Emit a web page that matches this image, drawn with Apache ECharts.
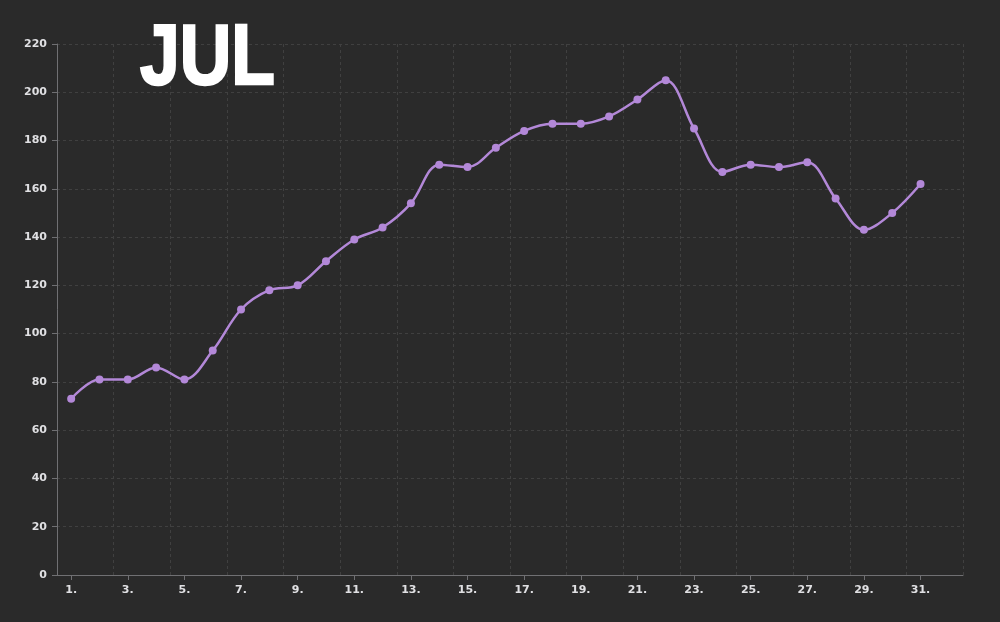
<!DOCTYPE html>
<html>
<head>
<meta charset="utf-8">
<script src="https://cdn.jsdelivr.net/npm/echarts@6/dist/echarts.min.js"></script>
<style>
html,body{margin:0;padding:0;background:#2a2a2a;}
#c{width:1000px;height:622px;}
</style>
</head>
<body>
<div id="c"></div>
<script>
const titleText = 'JUL';
const days = ['1','2','3','4','5','6','7','8','9','10','11','12','13','14','15','16','17','18','19','20','21','22','23','24','25','26','27','28','29','30','31','32'];
const values = [73,81,81,86,81,93,110,118,120,130,139,144,154,170,169,177,184,187,187,190,197,205,185,167,170,169,171,156,143,150,162];
const yTicks = {min:0, max:220, interval:20};

const chart = echarts.init(document.getElementById('c'), null, {renderer:'canvas'});
chart.setOption({
  backgroundColor:'#2a2a2a',
  animation:false,
  graphic:[{
    type:'text', left:139, top:16, z:100,
    scaleX:0.83, originX:0, originY:0,
    style:{text:titleText, fill:'#ffffff', stroke:'#ffffff', lineWidth:2.5,
      font:'bold 86px "Liberation Sans", Arial, sans-serif',
      shadowColor:'rgba(0,0,0,0.9)', shadowBlur:14, shadowOffsetX:3, shadowOffsetY:5}
  }],
  grid:{left:57, right:37, top:44, bottom:47, containLabel:false},
  xAxis:{
    type:'category', data:days, boundaryGap:true,
    axisLine:{lineStyle:{color:'#707073', width:1}},
    axisTick:{show:true, alignWithLabel:true, interval:1, length:5, lineStyle:{color:'#707073'}},
    axisLabel:{interval:1, color:'#e0e0e3', fontFamily:'DejaVu Sans', fontSize:11, fontWeight:'bold', margin:10,
      formatter:v=>v+'.'},
    splitLine:{show:true, interval:1, lineStyle:{color:'#404040', type:[3,3], width:1}}
  },
  yAxis:{
    type:'value', min:yTicks.min, max:yTicks.max, interval:yTicks.interval,
    axisLine:{show:true, lineStyle:{color:'#707073', width:1}},
    axisTick:{show:true, length:5, lineStyle:{color:'#707073'}},
    axisLabel:{color:'#e0e0e3', fontFamily:'DejaVu Sans', fontSize:11, fontWeight:'bold', margin:10},
    splitLine:{show:true, lineStyle:{color:'#404040', type:[3,3], width:1}}
  },
  series:[{
    type:'line', data:values, smooth:0.35,
    symbol:'circle', symbolSize:8,
    lineStyle:{color:'#b388d8', width:2.5},
    itemStyle:{color:'#b388d8'}
  }]
});
</script>
</body>
</html>
